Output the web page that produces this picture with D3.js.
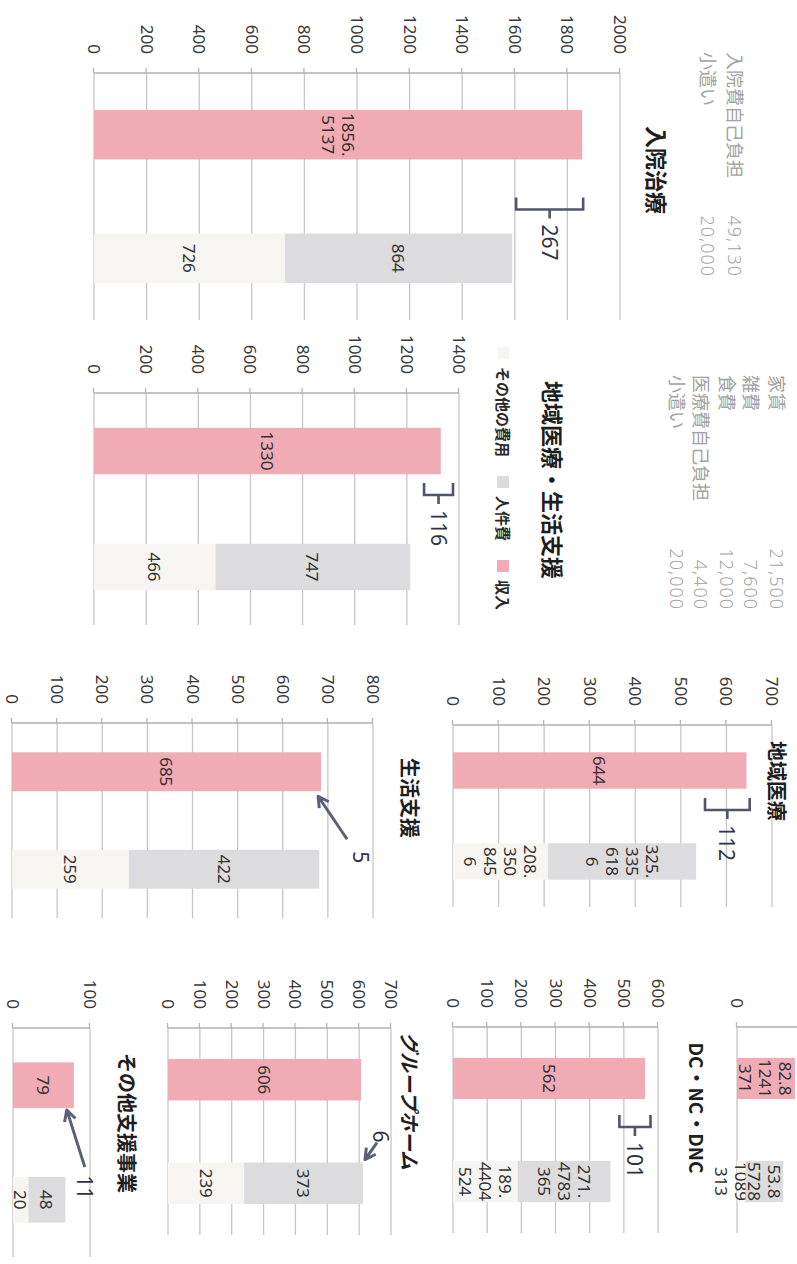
<!DOCTYPE html>
<html>
<head>
<meta charset="utf-8">
<script src="https://cdn.jsdelivr.net/npm/d3@7"></script>
<style>
  body { margin: 0; background: #fff; }
  svg { display: block; }
  text { font-family: "Noto Sans", "Noto Sans CJK JP", sans-serif; }
</style>
</head>
<body>
<div id="chart"></div>
<script>
// chart data (one entry per small chart, page order)
const titles = ['入院治療', '地域医療・生活支援', '地域医療', '生活支援', 'DC・NC・DNC', '', 'グループホーム', 'その他支援事業'];
const income = [1856.5137, 1330, 644, 685, 562, 82.81241371, 606, 79];
const personnel = [864, 747, 325.3356186, 422, 271.4783365, 53.85728, 373, 48];
const otherCost = [726, 466, 208.3508456, 259, 189.4404524, 12.21089313, 239, 20];
const axisMax = [2000, 1400, 700, 800, 600, 100, 700, 100];
const tickSteps = [200, 200, 100, 100, 100, 200, 100, 100];
const wrapChars = [4, 4, 3, 4, 4, 4, 4, 4];

const seriesKeys = ['other', 'personnel', 'income'];
const seriesNames = ['その他の費用', '人件費', '収入'];
const seriesColors = ['#f7f5f1', '#dcdcde', '#f1abb5'];

// hand-drawn notes
const bracketCharts = [0, 1, 2, 4];
const bracketTexts = ['267', '116', '112', '101'];
const bracketLo = [1605, 1266, 553, 487];
const bracketHi = [1860, 1377, 651, 578];
const arrowCharts = [3, 6, 7];
const arrowTexts = ['5', '6', '11'];

// cost tables
const table1Items = ['入院費自己負担', '小遣い'];
const table1Values = ['49,130', '20,000'];
const table2Items = ['家賃', '雑費', '食費', '医療費自己負担', '小遣い'];
const table2Values = ['21,500', '7,600', '12,000', '4,400', '20,000'];

// layout in page coordinates (page is printed turned a quarter)
const frames = [
    { u0: 73, w: 247, v0: 703, v1: 177, tu: 170, tv: 139, ts: 22, bdx: 13 },
    { u0: 393, w: 232, v0: 703, v1: 338, tu: 480, tv: 243, ts: 22, bdx: -14 },
    { u0: 725, w: 182, v0: 344, v1: 25, tu: 781, tv: 20, ts: 20, bdx: -6 },
    { u0: 723, w: 195, v0: 785, v1: 424, tu: 798, tv: 387, ts: 20 },
    { u0: 1027, w: 206, v0: 344, v1: 139, tu: 1108, tv: 100, ts: 19, bdx: -3 },
    { u0: 1027, w: 206, v0: 60, v1: -10, tu: 0, tv: 0, ts: 0 },
    { u0: 1028, w: 207, v0: 629, v1: 406, tu: 1101, tv: 387, ts: 20 },
    { u0: 1028, w: 229, v0: 784, v1: 707, tu: 1123, tv: 670, ts: 20 },
];

const W = 797, H = 1264;
const ink = '#50566a';

function wrapLabel(value, n) {
    const s = String(value);
    const lines = [];
    let i = 0;
    while (i < s.length) {
        let end = i + n;
        if (s[end] === '.') end += 1;
        lines.push(s.slice(i, end));
        i = end;
    }
    return lines;
}

const svg = d3.select('#chart').append('svg')
    .attr('width', W)
    .attr('height', H);

const page = svg.append('g').attr('transform', `translate(${W},0) rotate(90)`);

const scales = [];

titles.forEach((title, i) => {
    const f = frames[i];
    const g = page.append('g');

    const x = d3.scaleBand()
        .domain(['収入', '支出'])
        .range([f.u0, f.u0 + f.w])
        .paddingInner(0.6)
        .paddingOuter(0.3);

    const y = d3.scaleLinear()
        .domain([0, axisMax[i]])
        .range([f.v0, f.v1]);

    scales[i] = { x, y };

    const ticks = d3.range(0, axisMax[i] + 1e-9, tickSteps[i]);

    // gridlines
    g.append('g').selectAll('line')
        .data(ticks)
        .join('line')
        .attr('x1', f.u0)
        .attr('x2', f.u0 + f.w)
        .attr('y1', d => y(d))
        .attr('y2', d => y(d))
        .attr('stroke', '#c6c6c6')
        .attr('stroke-width', 1.3);

    // value axis
    const axis = d3.axisLeft(y)
        .tickValues(ticks)
        .tickFormat(d3.format('d'))
        .tickSize(5)
        .tickPadding(14);
    g.append('g')
        .attr('transform', `translate(${f.u0},0)`)
        .call(axis)
        .call(a => a.select('.domain').remove())
        .call(a => a.selectAll('.tick line').attr('stroke', '#b5b5b5').attr('stroke-width', 1.3))
        .call(a => a.selectAll('.tick text')
            .attr('fill', '#3a3a3a')
            .style('font-size', '17px')
            .style('font-family', '"Noto Sans", sans-serif'));

    g.append('line')
        .attr('x1', f.u0).attr('x2', f.u0)
        .attr('y1', y(0)).attr('y2', y(axisMax[i]))
        .attr('stroke', '#b0b0b0')
        .attr('stroke-width', 1.3);

    // stacked bars
    const rows = [
        { cat: '収入', other: 0, personnel: 0, income: income[i] },
        { cat: '支出', other: otherCost[i], personnel: personnel[i], income: 0 },
    ];
    const stack = d3.stack().keys(seriesKeys)(rows);

    stack.forEach((layer, k) => {
        const segs = layer.filter(d => d[1] - d[0] > 0);
        g.append('g').selectAll('rect')
            .data(segs)
            .join('rect')
            .attr('x', d => x(d.data.cat))
            .attr('width', x.bandwidth())
            .attr('y', d => y(d[1]))
            .attr('height', d => y(d[0]) - y(d[1]))
            .attr('fill', seriesColors[k]);

        const labels = g.append('g').selectAll('text')
            .data(segs)
            .join('text')
            .attr('text-anchor', 'middle')
            .attr('fill', '#333')
            .style('font-size', '17px');

        labels.each(function (d) {
            const lines = wrapLabel(d.data[seriesKeys[k]], wrapChars[i]);
            const cx = x(d.data.cat) + x.bandwidth() / 2;
            const cy = (y(d[0]) + y(d[1])) / 2;
            const t = d3.select(this);
            lines.forEach((line, j) => {
                t.append('tspan')
                    .attr('x', cx)
                    .attr('y', cy + (j - (lines.length - 1) / 2) * 20)
                    .attr('dominant-baseline', 'central')
                    .text(line);
            });
        });
    });

    if (title) {
        g.append('text')
            .attr('x', f.tu)
            .attr('y', f.tv)
            .attr('text-anchor', 'middle')
            .attr('dominant-baseline', 'central')
            .attr('fill', '#1e1e1e')
            .style('font-family', '"Noto Sans CJK JP", sans-serif')
            .style('font-weight', 'bold')
            .style('font-style', i === 6 ? 'italic' : 'normal')
            .style('font-size', f.ts + 'px')
            .text(title);
    }
});

// brackets showing the gap between income and cost
bracketCharts.forEach((ci, n) => {
    const { x, y } = scales[ci];
    const f = frames[ci];
    const gap = (x('収入') + x.bandwidth() + x('支出')) / 2;
    const u = gap + f.bdx;
    const top = y(bracketHi[n]);
    const bot = y(bracketLo[n]);
    const mid = (top + bot) / 2;
    page.append('path')
        .attr('d', `M${u - 12},${top} L${u},${top} L${u},${bot} L${u - 12},${bot} M${u},${mid} L${u + 9},${mid}`)
        .attr('fill', 'none')
        .attr('stroke', ink)
        .attr('stroke-width', 2.6);
    page.append('text')
        .attr('x', u + 15)
        .attr('y', mid)
        .attr('dominant-baseline', 'central')
        .attr('fill', '#2f3342')
        .style('font-size', '21px')
        .text(bracketTexts[n]);
});

// arrows
function arrow(s, e, label, lu, lv, anchor) {
    const ang = Math.atan2(e[1] - s[1], e[0] - s[0]);
    const a1 = ang + Math.PI - 0.5, a2 = ang + Math.PI + 0.5;
    const len = 12;
    page.append('path')
        .attr('d', `M${s[0]},${s[1]} L${e[0]},${e[1]}` +
            ` M${e[0] + len * Math.cos(a1)},${e[1] + len * Math.sin(a1)} L${e[0]},${e[1]}` +
            ` L${e[0] + len * Math.cos(a2)},${e[1] + len * Math.sin(a2)}`)
        .attr('fill', 'none')
        .attr('stroke', '#5b6074')
        .attr('stroke-width', 3)
        .attr('stroke-linejoin', 'round');
    page.append('text')
        .attr('x', lu)
        .attr('y', lv)
        .attr('text-anchor', anchor)
        .attr('dominant-baseline', 'central')
        .attr('fill', '#2f3342')
        .style('font-size', '21px')
        .text(label);
}

{
    // 生活支援: points at the income bar corner
    const { x, y } = scales[arrowCharts[0]];
    const e = [x('収入') + x.bandwidth() + 5, y(income[arrowCharts[0]]) + 3];
    const s = [e[0] + 43, e[1] - 29];
    arrow(s, e, arrowTexts[0], s[0] + 12, s[1] - 14, 'start');
}
{
    // グループホーム: points at the cost bar corner
    const ci = arrowCharts[1];
    const { x, y } = scales[ci];
    const e = [x('支出') - 3, y(otherCost[ci] + personnel[ci]) - 2];
    const s = [e[0] - 17, e[1] - 12];
    arrow(s, e, arrowTexts[1], s[0], s[1] - 4, 'end');
}
{
    // その他支援事業
    const ci = arrowCharts[2];
    const { x, y } = scales[ci];
    const e = [x('収入') + x.bandwidth() + 2, y(income[ci]) + 7];
    const s = [e[0] + 57, e[1] - 18];
    arrow(s, e, arrowTexts[2], s[0] + 8, s[1], 'start');
}

// legend of the 地域医療・生活支援 chart
{
    const lg = page.append('g').attr('transform', 'translate(347,294)');
    let pos = 0;
    seriesNames.forEach((name, k) => {
        lg.append('rect')
            .attr('x', pos)
            .attr('y', -6)
            .attr('width', 12)
            .attr('height', 12)
            .attr('fill', seriesColors[k]);
        const t = lg.append('text')
            .attr('x', pos + 20)
            .attr('y', 0)
            .attr('dominant-baseline', 'central')
            .attr('fill', '#2a2a2a')
            .style('font-family', '"Noto Sans CJK JP", sans-serif')
            .style('font-weight', 'bold')
            .style('font-size', '15px')
            .text(name);
        pos += 20 + t.node().getComputedTextLength() + 19;
    });
}

// cost tables
function costTable(items, values, u0, u1, rowsV) {
    const tg = page.append('g')
        .attr('fill', '#a2a2a2')
        .style('font-size', '18px')
        .style('font-family', '"Noto Sans CJK JP", sans-serif');
    tg.selectAll('text.item')
        .data(items)
        .join('text')
        .attr('class', 'item')
        .attr('x', u0)
        .attr('y', (d, j) => rowsV[j])
        .attr('dominant-baseline', 'central')
        .text(d => d);
    tg.selectAll('text.val')
        .data(values)
        .join('text')
        .attr('class', 'val')
        .attr('x', u1)
        .attr('y', (d, j) => rowsV[j])
        .attr('text-anchor', 'end')
        .attr('dominant-baseline', 'central')
        .style('font-family', '"Noto Sans", sans-serif')
        .style('font-weight', 300)
        .style('letter-spacing', '1px')
        .text(d => d);
}

costTable(table1Items, table1Values, 52, 277, [62, 89]);
costTable(table2Items, table2Values, 375, 610, [20, 46, 70, 96, 120]);
</script>
</body>
</html>
